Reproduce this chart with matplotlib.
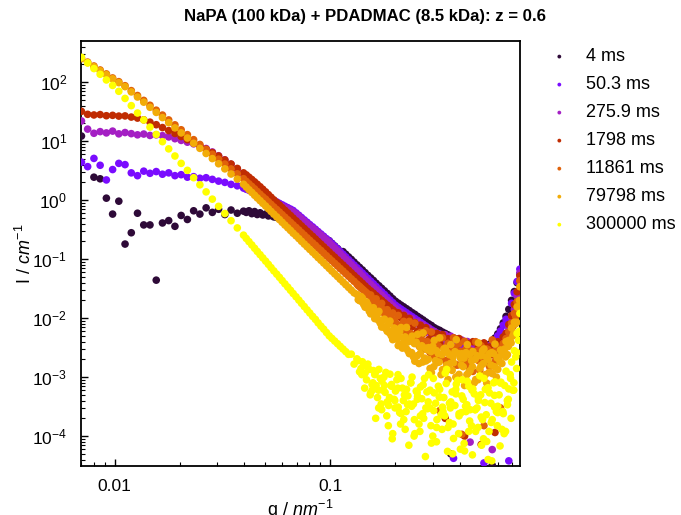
import numpy as np
import matplotlib
matplotlib.use("Agg")
import matplotlib.pyplot as plt

plt.rcParams['font.family'] = ['Liberation Sans', 'DejaVu Sans']
plt.rcParams['mathtext.fontset'] = 'custom'
plt.rcParams['mathtext.rm'] = 'Liberation Sans'
plt.rcParams['mathtext.it'] = 'Liberation Sans:italic'

nan = np.nan

# scattering vector, nm^-1 (coarse at low q, dense from 0.04 on)
q = [0.00700, 0.00748, 0.00800, 0.00855, 0.00914, 0.00977, 0.01044, 0.01116, 0.01193, 0.01275,
     0.01363, 0.01457, 0.01558, 0.01665, 0.01780, 0.01903, 0.02034, 0.02174, 0.02324, 0.02485,
     0.02656, 0.02839, 0.03035, 0.03245, 0.03468, 0.03708, 0.03963,
     0.0408, 0.0420, 0.0433, 0.0446, 0.0459, 0.0473, 0.0487, 0.0502, 0.0517, 0.0532,
     0.0548, 0.0565, 0.0582, 0.0599, 0.0617, 0.0636, 0.0655, 0.0674, 0.0695, 0.0716,
     0.0737, 0.0759, 0.0782, 0.0805, 0.0830, 0.0855, 0.0880, 0.0907, 0.0934, 0.0962,
     0.0991, 0.1020, 0.1051, 0.1083, 0.1115, 0.1149, 0.1183, 0.1219, 0.1255, 0.1293,
     0.1332, 0.1371, 0.1413, 0.1455, 0.1499, 0.1544, 0.1590, 0.1637, 0.1686, 0.1737,
     0.1789, 0.1843, 0.1898, 0.1955, 0.2014, 0.2074, 0.2136, 0.2200, 0.2266, 0.2334,
     0.2404, 0.2476, 0.2551, 0.2627, 0.2706, 0.2787, 0.2871, 0.2957, 0.3046, 0.3137,
     0.3231, 0.3328, 0.3428, 0.3531, 0.3637, 0.3746, 0.3858, 0.3974, 0.4093, 0.4216,
     0.4343, 0.4473, 0.4607, 0.4746, 0.4888, 0.5035, 0.5186, 0.5341, 0.5502, 0.5667,
     0.5837, 0.6012, 0.6192, 0.6378, 0.6570, 0.6767, 0.6970, 0.7179, 0.7394, 0.7616]

# extra points in the noisy high-q part (between the grid points above)
q_tail = [0.1352, 0.1392, 0.1434, 0.1477, 0.1521, 0.1567, 0.1613, 0.1661, 0.1711, 0.1763,
          0.1816, 0.1870, 0.1926, 0.1984, 0.2044, 0.2105, 0.2168, 0.2233, 0.2300, 0.2369,
          0.2440, 0.2513, 0.2589, 0.2666, 0.2746, 0.2829, 0.2914, 0.3001, 0.3091, 0.3184,
          0.3279, 0.3378, 0.3479, 0.3584, 0.3691, 0.3802, 0.3916, 0.4033, 0.4154, 0.4279,
          0.4407, 0.4540, 0.4676, 0.4816, 0.4961, 0.5110, 0.5263, 0.5421, 0.5584, 0.5751,
          0.5924, 0.6101, 0.6284, 0.6473, 0.6667, 0.6868, 0.7074, 0.7286, 0.7505]

q_tail2 = [0.1405, 0.1448, 0.1491, 0.1536, 0.1582, 0.1629, 0.1678, 0.1728, 0.1780, 0.1834,
           0.1889, 0.1945, 0.2004, 0.2064, 0.2126, 0.2190, 0.2255, 0.2323, 0.2392, 0.2464,
           0.2538, 0.2614, 0.2693, 0.2773, 0.2857, 0.2942, 0.3031, 0.3122, 0.3215, 0.3312,
           0.3411, 0.3513, 0.3619, 0.3727, 0.3839, 0.3954, 0.4073, 0.4195, 0.4321, 0.4451,
           0.4584, 0.4722, 0.4863, 0.5009, 0.5159, 0.5314, 0.5474, 0.5638, 0.5807, 0.5982,
           0.6161, 0.6346, 0.6536, 0.6732, 0.6934, 0.7143, 0.7357, 0.7578]

q_tail3 = [0.1570, 0.1625, 0.1682, 0.1741, 0.1802, 0.1865, 0.1930, 0.1998, 0.2068, 0.2140,
           0.2215, 0.2293, 0.2373, 0.2456, 0.2542, 0.2631, 0.2723, 0.2818, 0.2917, 0.3019,
           0.3125, 0.3234, 0.3347, 0.3464, 0.3586, 0.3711, 0.3841, 0.3975, 0.4114, 0.4258,
           0.4407, 0.4562, 0.4721, 0.4887, 0.5058, 0.5235, 0.5418, 0.5608, 0.5804, 0.6007,
           0.6218, 0.6435, 0.6661, 0.6894, 0.7135, 0.7385]

labels = ["4 ms", "50.3 ms", "275.9 ms", "1798 ms", "11861 ms", "79798 ms", "300000 ms"]
colors = ["#2e0a38", "#7a0cff", "#a41fc4", "#c02c02", "#e0620a", "#f2ac08", "#ffff00"]

# intensities, cm^-1
I_4 = [12.2, nan, 2.45, 2.3, 1.08, 0.58, 0.96, 0.18, 0.28, 0.60,
       0.38, 0.38, 0.044, 0.41, 0.45, 0.36, 0.55, 0.47, 0.66, 0.58,
       0.74, 0.62, 0.70, 0.57, 0.68, 0.60, 0.65,
       0.62, 0.66, 0.59, 0.64, 0.57, 0.61, 0.56, 0.58, 0.54, 0.55,
       0.52, 0.51, 0.49, 0.48, 0.456, 0.434, 0.413, 0.393, 0.374, 0.356,
       0.338, 0.322, 0.306, 0.291, 0.277, 0.263, 0.251, 0.238, 0.227, 0.216,
       0.205, 0.185, 0.167, 0.151, 0.136, 0.134, 0.121, 0.109, 0.099, 0.089,
       0.080, 0.0725, 0.0655, 0.059, 0.053, 0.048, 0.0435, 0.039, 0.0354, 0.032,
       0.029, 0.0262, 0.0237, 0.0213, 0.0193, 0.0179, 0.0166, 0.0155, 0.0144, 0.0134,
       0.0124, 0.0116, 0.0107, 0.0100, 0.0093, 0.0086, 0.0080, 0.0075, 0.0069, 0.0065,
       0.0062, 0.0058, 0.0055, 0.0052, 5.0e-5, 0.0046, 0.0043, 0.0041, 0.0038, 0.0036,
       0.0034, 0.0032, 0.0030, 0.0029, 0.0029, 0.0029, 0.0031, 0.0033, 0.0036, 3.2e-5,
       0.0046, 0.0054, 0.0066, 0.0083, 0.0107, 0.0141, 0.020, 0.0282, 0.0398, 0.0562]

I_50 = [4.4, 3.7, 5.1, 3.9, 2.2, 3.3, 4.2, 4.0, 2.9, 2.6,
        3.1, 2.85, 3.05, 2.75, 2.9, 2.6, 2.7, 2.45, 2.5, 2.35,
        2.4, 2.25, 2.1, 2.0, 1.85, 1.75, 1.6,
        1.53, 1.47, 1.41, 1.36, 1.30, 1.25, 1.20, 1.15, 1.10, 1.04,
        0.986, 0.932, 0.881, 0.834, 0.787, 0.745, 0.705, 0.667, 0.608, 0.555,
        0.507, 0.462, 0.422, 0.385, 0.352, 0.321, 0.293, 0.267, 0.244, 0.222,
        0.203, 0.183, 0.165, 0.149, 0.134, 0.121, 0.109, 0.0977, 0.0881, 0.0793,
        0.0714, 0.0643, 0.0579, 0.0522, 0.0470, 0.0423, 0.0381, 0.0343, 0.0309, 0.0278,
        0.0251, 0.0225, 0.0203, 0.0183, 0.0165, 0.0153, 0.0142, 0.0132, 0.0123, 0.0114,
        0.0106, 0.00986, 0.00916, 0.00851, 0.00791, 0.00735, 0.00682, 0.00634, 0.0059, 0.00557,
        0.00525, 0.00495, 0.00467, 0.00441, 0.00416, 4.2e-5, 0.0037, 0.00348, 0.00329, 0.0031,
        0.00292, 0.00276, 0.0026, 0.00251, 0.00245, 0.00245, 3.5e-5, 0.00275, 0.00316, 0.00363,
        0.00417, 0.00501, 0.00603, 0.00759, 0.00955, 3.8e-5, 0.0178, 0.0263, 0.0417, 0.0676]

I_276 = [22.0, 16.0, 13.6, 14.5, 13.8, 14.8, 13.3, 14.0, 13.4, 12.8,
         13.2, 12.5, 12.8, 12.4, 11.8, 11.0, 10.3, 9.6, 9.0, 8.2,
         7.5, 6.56, 5.66, 4.82, 4.05, 3.36, 2.75,
         2.51, 2.30, 2.08, 1.88, 1.70, 1.53, 1.37, 1.24, 1.11, 1.0,
         0.94, 0.89, 0.84, 0.79, 0.75, 0.71, 0.67, 0.63, 0.58, 0.53,
         0.48, 0.44, 0.40, 0.365, 0.335, 0.305, 0.28, 0.255, 0.232, 0.21,
         0.19, 0.17, 0.153, 0.137, 0.123, 0.11, 0.099, 0.089, 0.080, 0.072,
         0.064, 0.058, 0.052, 0.046, 0.0415, 0.0374, 0.0337, 0.0303, 0.0273, 0.0246,
         0.0222, 0.0200, 0.0180, 0.0162, 0.0146, 0.0135, 0.0126, 0.0117, 0.0108, 0.0101,
         0.0098, 0.0081, 0.00865, 0.00684, 0.00764, 0.00577, 0.00675, 0.00486, 0.00596, 0.00425,
         0.00538, 0.00385, 0.00522, 0.00372, 0.00494, 0.00321, 0.00437, 0.00291, 0.00424, 0.00288,
         0.00401, 7.9e-5, 0.00355, 0.00234, 0.00355, 0.00245, 0.00372, 0.00224, 0.00339, 5.9e-5,
         0.00355, 0.00234, 0.00372, 0.0042, 0.0055, 0.0068, 0.0098, 0.014, 0.024, 0.058]

I_1798 = [32.0, 28.5, 27.8, 28.2, 27.0, 27.4, 26.6, 26.8, 25.6, 24.6,
          23.0, 21.0, 19.0, 17.0, 15.1, 13.5, 12.0, 10.6, 9.4, 8.3,
          7.3, 6.4, 5.6, 4.8, 4.1, 3.45, 2.9,
          2.68, 2.45, 2.24, 2.04, 1.86, 1.69, 1.53, 1.38, 1.24, 1.12,
          1.01, 0.912, 0.824, 0.744, 0.672, 0.607, 0.548, 0.495, 0.447, 0.404,
          0.365, 0.330, 0.298, 0.269, 0.243, 0.219, 0.198, 0.179, 0.162, 0.146,
          0.132, 0.119, 0.108, 0.0971, 0.0877, 0.0793, 0.0716, 0.0647, 0.0584, 0.0527,
          0.0476, 0.0430, 0.0389, 0.0351, 0.0317, 0.0289, 0.0264, 0.0240, 0.0219, 0.0200,
          0.0182, 0.0166, 0.0152, 0.0138, 0.0126, 0.0123, 0.0102, 0.0111, 0.00904, 0.00989,
          0.00714, 0.00836, 0.00604, 0.00759, 0.00547, 0.00687, 0.00433, 0.00556, 0.00366, 0.00548,
          0.00375, 0.00525, 2.0e-4, 0.00448, 0.00286, 0.00459, 0.00293, 0.0045, 0.00239, 1.0e-4,
          0.00371, 0.00226, 0.00398, 0.00229, 0.00331, 7.2e-5, 0.0038, 0.00204, 0.00324, 0.0024,
          1.15e-4, 0.00398, 0.00269, 0.0048, 0.0055, 0.0078, 0.011, 0.017, 0.028, 0.052]

I_11861 = [255, 219, 188, 161, 138, 118, 102, 87.1, 71.9, 59.4,
           49.1, 40.6, 33.5, 27.7, 22.9, 18.9, 15.6, 12.9, 10.6, 8.79,
           7.26, 6.0, 4.95, 4.09, 3.38, 2.79, 2.31,
           2.08, 1.89, 1.71, 1.55, 1.40, 1.26, 1.14, 1.04, 0.936, 0.847,
           0.766, 0.693, 0.627, 0.567, 0.513, 0.464, 0.420, 0.380, 0.344, 0.311,
           0.281, 0.255, 0.230, 0.208, 0.188, 0.171, 0.154, 0.140, 0.126, 0.114,
           0.103, 0.0935, 0.0845, 0.0766, 0.0692, 0.0627, 0.0566, 0.0513, 0.0463, 0.0420,
           0.0379, 0.0344, 0.0310, 0.0281, 0.0254, 0.0247, 0.0190, 0.0212, 0.0160, 0.0178,
           0.0119, 0.0139, 0.00957, 0.0122, 0.00841, 0.0111, 0.00653, 0.00881, 0.00543, 0.00881,
           0.00519, 0.00822, 0.00385, 0.00569, 0.00313, 0.0061, 0.00359, 0.00582, 0.00226, 0.00439,
           2.7e-4, 0.00465, 0.00192, 0.00373, 0.00229, 0.00463, 0.0016, 0.00368, 1.07e-4, 0.00404,
           0.00185, 0.00281, 0.00125, 0.00398, 0.00191, 0.00339, 1.5e-4, 0.0030, 0.00151, 0.00427,
           0.00182, 0.00288, 3.0e-4, 0.0037, 0.0045, 0.0058, 0.0082, 0.012, 0.019, 0.043]

I_79798 = [250, 214, 183, 156, 134, 114, 98, 84, 68.4, 56.0,
           45.8, 37.5, 30.7, 25.1, 20.6, 16.8, 13.8, 11.3, 9.2, 7.55,
           6.18, 5.06, 4.14, 3.39, 2.77, 2.27, 1.86,
           1.67, 1.50, 1.35, 1.21, 1.09, 0.98, 0.883, 0.794, 0.714, 0.643,
           0.578, 0.520, 0.468, 0.421, 0.378, 0.340, 0.306, 0.275, 0.248, 0.223,
           0.200, 0.180, 0.162, 0.146, 0.131, 0.118, 0.106, 0.0955, 0.0859, 0.0773,
           0.0695, 0.0625, 0.0562, 0.0506, 0.0455, 0.0409, 0.0368, 0.0331, 0.0298, 0.0268,
           0.0252, 0.0198, 0.0219, 0.0153, 0.0169, 0.0118, 0.0150, 0.0102, 0.0130, 0.00705,
           0.0096, 0.00597, 0.0089, 0.00431, 0.00658, 0.00342, 0.00692, 0.00385, 0.00695, 0.0025,
           0.00494, 0.00186, 0.00532, 0.00252, 0.0056, 0.00188, 0.00316, 0.00119, 0.00419, 0.00175,
           0.00462, 0.00134, 0.00308, 9.1e-4, 0.00356, 0.00175, 0.00431, 0.00111, 0.00249, 7.2e-4,
           0.00355, 0.00129, 0.00271, 9.1e-4, 0.0038, 0.00158, 0.0030, 7.9e-4, 0.0025, 0.00115,
           0.00363, 0.00135, 0.00288, 0.0026, 0.0040, 0.0042, 0.0068, 0.0085, 0.0155, 0.034]

I_300000 = [264, 212, 170, 136, 109, 88, 70, 53, 40, 30,
            22.9, 17.3, 13.0, 9.8, 7.4, 5.6, 4.2, 3.2, 2.4, 1.82,
            1.38, 1.04, 0.785, 0.593, 0.448, 0.338, 0.255,
            0.224, 0.198, 0.174, 0.153, 0.135, 0.119, 0.105, 0.0925, 0.0815, 0.0718,
            0.0632, 0.0557, 0.0491, 0.0433, 0.0381, 0.0336, 0.0296, 0.0261, 0.0230, 0.0202,
            0.0178, 0.0157, 0.0138, 0.0122, 0.0107, 0.0095, 0.0083, 0.0073, 0.0065, 0.0057,
            0.0050, 0.00453, 0.00408, 0.00368, 0.00332, 0.00299, 0.0027, 0.00243, 2.45e-3, 1.66e-3,
            2.04e-3, 1.23e-3, 1.82e-3, 1.17e-3, 1.66e-3, 5.4e-4, 1.29e-3, 7.2e-4, 1.35e-3, 2.8e-4,
            7.2e-4, 3.8e-4, 1.12e-3, 1.1e-4, 5.8e-4, 3.1e-4, 9.5e-4, 1.9e-4, 6.2e-4, 3.5e-4,
            1.0e-3, 1.1e-4, 4.7e-4, 2.2e-4, 7.4e-4, 3.0e-4, 1.1e-3, 7.6e-5, 5.4e-4, 1.9e-4,
            6.2e-4, 3.1e-4, 1.17e-3, 1.4e-4, 3.8e-4, 9.1e-5, 7.6e-4, 2.4e-4, 4.8e-4, 5.6e-5,
            8.5e-4, 2.8e-4, 6.3e-4, 1.2e-4, 4.0e-4, 2.1e-4, 9.5e-4, 8.1e-5, 5.4e-4, 1.9e-4,
            8.3e-4, 3.2e-4, 7.9e-4, 2.4e-4, 1.26e-3, 6.3e-4, 1.8e-3, 2.8e-3, 5.5e-3, 1.2e-2]

I_11861_tail = [0.0355, 0.0325, 0.0295, 0.0268, 0.0243, 0.0218, 0.0196, 0.0176, 0.0158, 0.0140,
                0.0126, 0.0112, 0.0100, 0.0093, 0.0078, 0.0076, 0.0062, 0.0064, 0.0049, 0.0055,
                0.0041, 0.0048, 0.0034, 0.0043, 0.0030, 0.0040, 0.0026, 0.0036, 0.0024, 0.0034,
                0.0020, 0.0031, 0.0018, 0.0029, 0.0021, 0.0032, 0.0016, 0.0027, 0.0019, 0.0030,
                0.0015, 0.0026, 0.0020, 0.0028, 0.0013, 0.0025, 0.0019, 0.0029, 0.0016, 0.0027,
                0.0021, 0.0031, 0.0025, 0.0036, 0.0040, 0.0055, 0.0072, 0.0105, 0.0190]

I_79798_tail = [0.0205, 0.0232, 0.0170, 0.0188, 0.0131, 0.0142, 0.0098, 0.0115, 0.0082, 0.0094,
                0.0066, 0.0079, 0.0050, 0.0068, 0.0044, 0.0059, 0.0031, 0.0048, 0.0028, 0.0043,
                0.0022, 0.0039, 0.0017, 0.0034, 0.0021, 0.0029, 0.0014, 0.0033, 0.0019, 0.0025,
                0.0011, 0.0030, 0.0016, 0.0024, 0.0013, 0.0027, 0.0009, 0.0021, 0.0015, 0.0026,
                0.0012, 0.0019, 0.0008, 0.0023, 0.0014, 0.0028, 0.0011, 0.0020, 0.0016, 0.0025,
                0.0010, 0.0022, 0.0017, 0.0030, 0.0024, 0.0041, 0.0050, 0.0080, 0.0150]

I_79798_tail2 = [0.0190, 0.0172, 0.0150, 0.0139, 0.0118, 0.0110, 0.0092, 0.0088, 0.0071, 0.0072,
                 0.0056, 0.0060, 0.0045, 0.0052, 0.0036, 0.0046, 0.0031, 0.0040, 0.0026, 0.0037,
                 0.0023, 0.0032, 0.0018, 0.0031, 0.0020, 0.0027, 0.0015, 0.0028, 0.0018, 0.0024,
                 0.0012, 0.0026, 0.0017, 0.0022, 0.0010, 0.0025, 0.0016, 0.0021, 0.0011, 0.0024,
                 0.0015, 0.0020, 0.0009, 0.0023, 0.0017, 0.0022, 0.0012, 0.0026, 0.0015, 0.0021,
                 0.0018, 0.0027, 0.0022, 0.0033, 0.0038, 0.0055, 0.0085, 0.0200]

I_300000_tail = [1.9e-3, 1.4e-3, 1.6e-3, 9.0e-4, 1.35e-3, 7.5e-4, 1.1e-3, 4.5e-4, 9.5e-4, 6.0e-4,
                 1.2e-3, 3.3e-4, 7.0e-4, 4.2e-4, 9.0e-4, 2.5e-4, 6.5e-4, 1.3e-4, 4.8e-4, 8.0e-4,
                 3.5e-4, 5.8e-4, 1.6e-4, 4.3e-4, 9.5e-4, 2.9e-4, 6.0e-4, 1.0e-4, 3.6e-4, 7.0e-4,
                 2.3e-4, 4.5e-4, 1.35e-3, 1.7e-4, 5.6e-4, 3.3e-4, 8.8e-4, 6.0e-5, 4.2e-4, 2.6e-4,
                 7.0e-4, 1.5e-4, 5.2e-4, 3.0e-4, 1.05e-3, 1.9e-4, 6.2e-4, 4.0e-5, 3.6e-4, 8.0e-4,
                 2.6e-4, 5.0e-4, 1.3e-4, 7.2e-4, 3.4e-4, 1.1e-3, 6.0e-4, 2.2e-3, 4.2e-3]

I_300000_tail2 = [1.1e-3, 6.5e-4, 1.5e-3, 5.0e-4, 8.0e-4, 2.0e-4, 6.0e-4, 3.5e-4, 1.0e-3, 2.2e-4,
                  4.5e-4, 9.0e-5, 3.0e-4, 6.5e-4, 1.6e-4, 4.0e-4, 2.6e-4, 7.0e-5, 3.2e-4, 1.9e-4,
                  5.5e-4, 1.2e-4, 2.4e-4, 4.5e-5, 3.8e-4, 1.5e-4, 2.7e-4, 8.0e-5, 4.6e-4, 1.3e-4,
                  2.2e-4, 5.5e-5, 3.0e-4, 1.6e-4, 6.2e-4, 1.1e-4, 2.5e-4, 7.5e-5, 3.4e-4, 1.8e-4,
                  4.8e-5, 2.8e-4, 1.4e-4, 5.0e-4, 9.0e-5, 2.3e-4, 1.2e-4, 3.8e-5, 3.1e-4, 1.5e-4,
                  6.8e-5, 2.6e-4, 1.2e-4, 4.2e-4, 2.0e-4, 8.0e-4, 1.4e-3, 6.0e-3]

I_300000_tail3 = [6.0e-4, 1.2e-3, 3.0e-4, 8.5e-4, 5.5e-4, 1.5e-4, 7.5e-4, 4.0e-4, 1.1e-3, 2.4e-4,
                  5.0e-4, 3.4e-4, 8.0e-4, 1.0e-4, 4.2e-4, 6.8e-4, 2.0e-4, 5.6e-4, 3.0e-4, 9.5e-4,
                  1.4e-4, 4.6e-4, 2.6e-4, 7.8e-4, 3.6e-4, 5.0e-5, 5.2e-4, 2.2e-4, 9.0e-4, 3.2e-4,
                  1.2e-4, 6.0e-4, 2.8e-4, 4.4e-4, 7.0e-5, 3.7e-4, 6.6e-4, 1.7e-4, 4.9e-4, 2.5e-4,
                  8.2e-4, 1.1e-4, 4.0e-4, 9.5e-4, 6.0e-4, 2.6e-3]

series = [I_4, I_50, I_276, I_1798, I_11861, I_79798, I_300000]
tails = [[], [], [], [],
         [(q_tail, I_11861_tail)],
         [(q_tail, I_79798_tail), (q_tail2, I_79798_tail2)],
         [(q_tail, I_300000_tail), (q_tail2, I_300000_tail2), (q_tail3, I_300000_tail3)]]

fig = plt.figure(figsize=(6.81, 5.15), dpi=100)
ax = fig.add_axes([0.119, 0.095, 0.645, 0.825])

for I, extra, c, lab in zip(series, tails, colors, labels):
    ax.scatter(q, I, s=30, color=c, edgecolors='none', label=lab, zorder=3)
    for qt, It in extra:
        ax.scatter(qt, It, s=30, color=c, edgecolors='none', zorder=3)

ax.set_xscale('log')
ax.set_yscale('log')
ax.set_xlim(0.00697, 0.765)
ax.set_ylim(3.1e-5, 495)

ax.tick_params(which='both', direction='in', top=False, right=False, labelsize=12.5)
ax.tick_params(which='major', length=5, width=1)
ax.tick_params(which='minor', length=3, width=0.8)
ax.tick_params(axis='y', pad=10)
ax.tick_params(axis='x', pad=9)
for sp in ax.spines.values():
    sp.set_linewidth(1.3)

ax.set_xticks([0.01, 0.1])
ax.set_xticklabels(['0.01', '0.1'])

ax.set_xlabel('q / $\\it{nm}^{-1}$', fontsize=13, labelpad=3)
ax.set_ylabel('I / $\\it{cm}^{-1}$', fontsize=13, labelpad=-2)

fig.text(0.536, 0.967, 'NaPA (100 kDa) + PDADMAC (8.5 kDa): z = 0.6',
         ha='center', va='center', fontsize=12.1, fontweight='bold')

ax.legend(loc='upper left', bbox_to_anchor=(1.019, 1.013), frameon=False,
          fontsize=13, markerscale=0.5, handletextpad=0.5, labelspacing=0.61,
          borderaxespad=0.3)

fig.savefig('out.png', dpi=100)
